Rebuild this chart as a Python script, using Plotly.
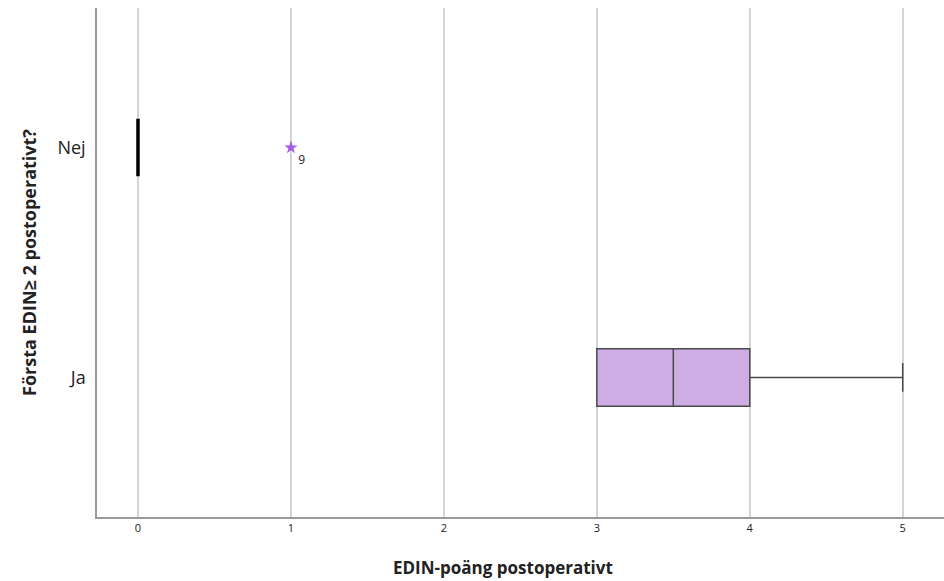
import plotly.graph_objects as go

categories = ["Ja", "Nej"]
q1_vals = [3, 0]
median_vals = [3.5, 0]
q3_vals = [4, 0]
lower_vals = [3, 0]
upper_vals = [5, 0]
outlier_x = [1]
outlier_y = ["Nej"]
outlier_labels = ["9"]
x_ticks = [0, 1, 2, 3, 4, 5]

fig = go.Figure()

# Ja box
fig.add_trace(go.Box(
    orientation="h",
    y=[categories[0]], q1=[q1_vals[0]], median=[median_vals[0]], q3=[q3_vals[0]],
    lowerfence=[lower_vals[0]], upperfence=[upper_vals[0]],
    fillcolor="#CEADE5", line=dict(color="#4a4a4a", width=1.5),
    width=0.25, whiskerwidth=0.5, boxpoints=False, showlegend=False, hoverinfo="skip",
))
# Nej box (degenerate)
fig.add_trace(go.Box(
    orientation="h",
    y=[categories[1]], q1=[q1_vals[1]], median=[median_vals[1]], q3=[q3_vals[1]],
    lowerfence=[lower_vals[1]], upperfence=[upper_vals[1]],
    fillcolor="#CEADE5", line=dict(color="#000000", width=3.5),
    width=0.25, whiskerwidth=0.5, boxpoints=False, showlegend=False, hoverinfo="skip",
))
# Outlier
fig.add_trace(go.Scatter(
    x=outlier_x, y=outlier_y, mode="markers+text",
    marker=dict(symbol="star", size=10, color="#A35BE8"),
    text=outlier_labels, textposition="bottom right",
    textfont=dict(family="Open Sans", size=12, color="#222222"),
    showlegend=False, hoverinfo="skip", cliponaxis=False,
))

fig.update_layout(
    width=944, height=581,
    margin=dict(l=97, r=0, t=8, b=64),
    plot_bgcolor="white", paper_bgcolor="white",
    font=dict(family="Open Sans", color="#222222"),
    xaxis=dict(
        range=[-0.268, 5.27], tickvals=x_ticks, ticktext=[str(v) for v in x_ticks],
        showgrid=True, gridcolor="#d4d4d4", gridwidth=1.5, zeroline=False,
        showline=True, linecolor="#9a9a9a", linewidth=1.5,
        ticks="", tickfont=dict(size=11, color="#222222"),
    ),
    yaxis=dict(
        type="category", categoryorder="array", categoryarray=categories,
        range=[-0.607, 1.607],
        showgrid=False, zeroline=False,
        showline=True, linecolor="#9a9a9a", linewidth=1.5,
        ticks="", ticklabelstandoff=6, tickfont=dict(size=18, color="#222222"),
        title=dict(text="<b>Första EDIN≥ 2 postoperativt?</b>", font=dict(size=18, color="#222222"), standoff=16),
    ),
    annotations=[dict(
        text="<b>EDIN-poäng postoperativt</b>", xref="paper", yref="paper",
        x=0.479, y=-0.1, yanchor="middle", xanchor="center",
        showarrow=False, font=dict(size=17, color="#222222"),
    )],
)

fig.write_html(
    "out.html",
    config={"displayModeBar": False},
    post_script="document.body.style.margin='0';document.body.style.overflow='hidden';",
)
